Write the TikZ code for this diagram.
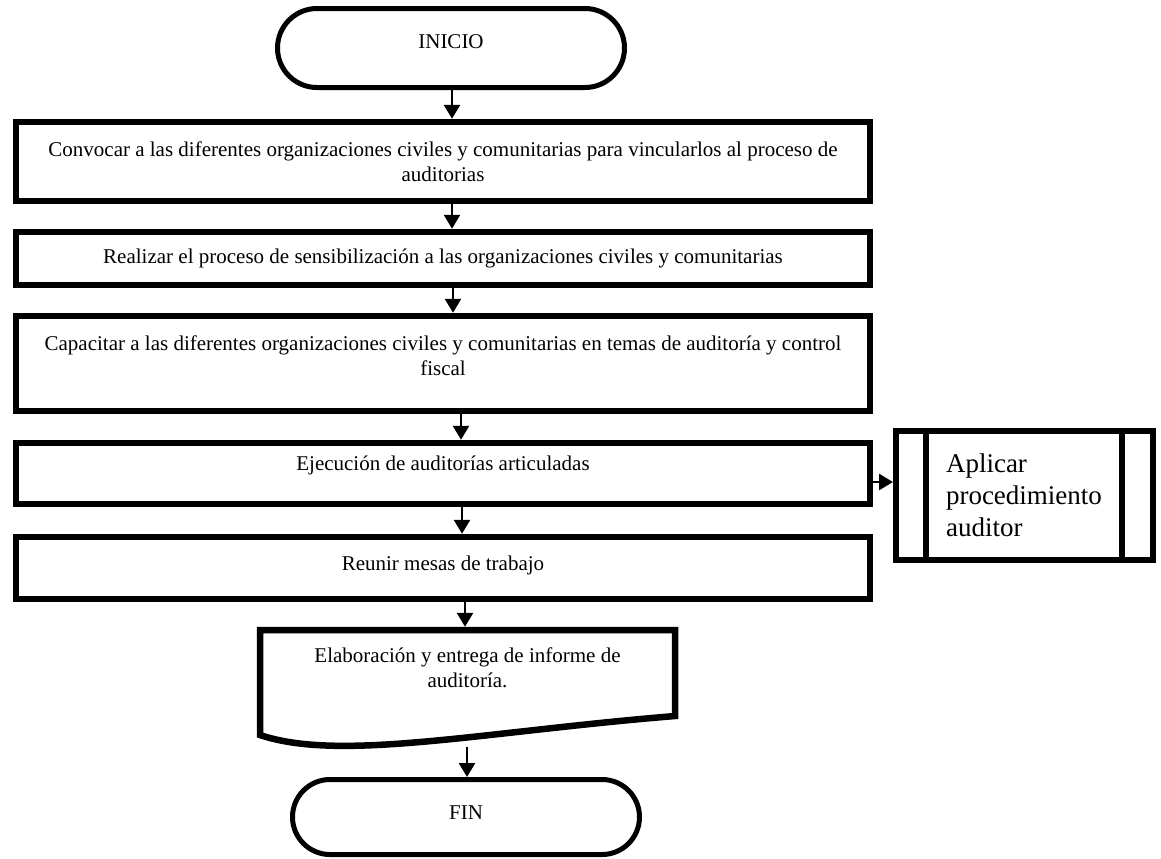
\documentclass[tikz,border=0pt]{standalone}
\usepackage{fontspec}
\setmainfont{Liberation Serif}
\usetikzlibrary{arrows.meta,shapes.misc}

\begin{document}
\begin{tikzpicture}[x=0.5pt,y=-0.5pt,
    every node/.style={font=\fontsize{10.5}{12.5}\selectfont},
    terminal/.style={rounded rectangle, draw, line width=2.5pt, minimum width=173.5pt, inner sep=0pt},
    paso/.style={rectangle, draw, line width=3.25pt, minimum width=427pt, align=center, inner sep=0pt},
    flecha/.style={-{Triangle[length=7pt,width=8pt]}, line width=1.3pt}]
    \useasboundingbox (0,0) rectangle (1161,858);
    \node[terminal, minimum height=39.5pt, text depth=6pt] (inicio) at (451,48) {INICIO};
    \node[paso, minimum height=39.5pt] (convocar) at (443,161.5) {Convocar a las diferentes organizaciones civiles y comunitarias para vincularlos al proceso de\\auditorias};
    \node[paso, minimum height=26.5pt] (sensibilizar) at (443,258.5) {Realizar el proceso de sensibilización a las organizaciones civiles y comunitarias};
    \node[paso, minimum height=47.5pt, text depth=8pt] (capacitar) at (443,363.5) {Capacitar a las diferentes organizaciones civiles y comunitarias en temas de auditoría y control\\fiscal};
    \node[paso, minimum height=30.5pt, text depth=10pt] (ejecucion) at (443,473.5) {Ejecución de auditorías articuladas};
    \node[paso, minimum height=31pt, text depth=5.3pt] (reunir) at (443,568) {Reunir mesas de trabajo};
    \node[draw, line width=3pt, minimum width=128.5pt, minimum height=64.5pt, inner sep=0pt, text width=78.5pt, align=left, font=\fontsize{13.5}{16}\selectfont] (aplicar) at (1024.5,495.5) {Aplicar\\procedimiento\\auditor};
    \draw[line width=3pt] ([xshift=16.5pt]aplicar.north west) -- ([xshift=16.5pt]aplicar.south west);
    \draw[line width=3pt] ([xshift=-17pt]aplicar.north east) -- ([xshift=-17pt]aplicar.south east);
    \node[minimum width=207.5pt, minimum height=43pt, align=center, inner sep=0pt, outer sep=0pt, text depth=5.5pt] (informe) at (467.5,673) {Elaboración y entrega de informe de\\auditoría.};
    \draw[line width=3.25pt] (informe.south east) -- (informe.north east) -- (informe.north west) -- ([yshift=-9.5pt]informe.south west) .. controls (340,762) and (480,732) .. (informe.south east) -- cycle;
    \node[terminal, minimum height=37.5pt, text depth=4pt] (fin) at (466,817) {FIN};

    \foreach \de/\a/\dx in {inicio/convocar/0.5pt, convocar/sensibilizar/4.5pt, sensibilizar/capacitar/5pt, capacitar/ejecucion/9pt, ejecucion/reunir/9.5pt}
      \draw[flecha] ([xshift=\dx]\de.south) -- ([xshift=\dx]\de.south |- \a.north);
    \draw[flecha] ([xshift=11pt]reunir.south) -- ([xshift=11pt,yshift=1.6pt]reunir.south |- informe.north);
    \draw[flecha] ([yshift=-4.25pt]ejecucion.east) -- ([yshift=-4.25pt]ejecucion.east -| aplicar.west);
    \coordinate (salida) at (467,747);
    \draw[flecha] (salida) -- (salida |- fin.north);
\end{tikzpicture}
\end{document}
